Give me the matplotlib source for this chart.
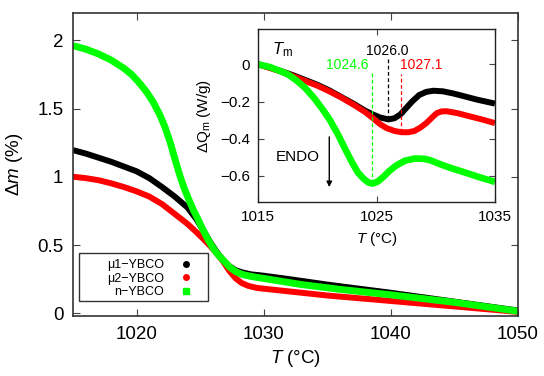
import matplotlib
matplotlib.use("Agg")
import matplotlib.pyplot as plt
from matplotlib.lines import Line2D
from matplotlib.patches import Rectangle

plt.rcParams['font.family'] = ['Liberation Sans', 'DejaVu Sans']
plt.rcParams['mathtext.fontset'] = 'custom'
plt.rcParams['mathtext.rm'] = 'Liberation Sans'
plt.rcParams['mathtext.it'] = 'Liberation Sans:italic'

# main panel: mass change vs temperature
t_mu1 = [1015, 1016, 1017, 1018, 1019, 1020, 1021, 1022, 1023, 1024,
         1024.7, 1025.3, 1025.8, 1026.3, 1026.8, 1027.3, 1027.8, 1028.3, 1029, 1030,
         1032, 1035, 1040, 1045, 1050]
dm_mu1 = [1.195, 1.17, 1.14, 1.11, 1.075, 1.04, 0.99, 0.925, 0.855, 0.775,
          0.69, 0.60, 0.52, 0.45, 0.39, 0.345, 0.315, 0.30, 0.285, 0.275,
          0.25, 0.21, 0.15, 0.085, 0.02]

t_mu2 = [1015, 1016, 1017, 1018, 1019, 1020, 1021, 1022, 1023, 1024,
         1024.7, 1025.3, 1025.8, 1026.3, 1026.8, 1027.3, 1027.8, 1028.3, 1028.8, 1029.5,
         1031, 1035, 1040, 1045, 1050]
dm_mu2 = [1.00, 0.99, 0.975, 0.952, 0.925, 0.893, 0.855, 0.80, 0.728, 0.655,
          0.595, 0.54, 0.492, 0.44, 0.38, 0.31, 0.255, 0.22, 0.20, 0.185,
          0.17, 0.13, 0.09, 0.05, 0.01]

t_n = [1015, 1016, 1017, 1018, 1019, 1019.6, 1020.2, 1020.8, 1021.35, 1021.85,
       1022.25, 1022.65, 1023.05, 1023.4, 1023.75, 1024.1, 1024.45, 1024.85, 1025.15, 1025.5,
       1025.9, 1026.3, 1026.8, 1027.3, 1027.8, 1028.3, 1029, 1030, 1033, 1036,
       1040, 1045, 1050]
dm_n = [1.96, 1.935, 1.90, 1.855, 1.795, 1.75, 1.69, 1.62, 1.54, 1.45,
        1.36, 1.25, 1.12, 1.01, 0.915, 0.835, 0.76, 0.685, 0.625, 0.56,
        0.495, 0.44, 0.39, 0.34, 0.305, 0.285, 0.27, 0.255, 0.21, 0.175,
        0.135, 0.08, 0.015]

# inset: heat flow
ti_mu1 = [1015, 1016, 1017, 1018, 1019, 1020, 1021, 1022, 1023, 1024,
          1024.7, 1025.3, 1026, 1026.5, 1027, 1027.5, 1028, 1028.6, 1029.2, 1029.8,
          1030.6, 1031.5, 1032.3, 1033.5, 1035]
q_mu1 = [0.0, -0.018, -0.038, -0.06, -0.085, -0.11, -0.14, -0.175, -0.21, -0.248,
         -0.27, -0.286, -0.296, -0.29, -0.27, -0.235, -0.2, -0.165, -0.148, -0.142,
         -0.145, -0.157, -0.17, -0.19, -0.211]

ti_mu2 = [1015, 1016, 1017, 1018, 1019, 1020, 1021, 1022, 1023, 1024,
          1024.7, 1025.3, 1025.85, 1026.5, 1027.1, 1027.7, 1028.2, 1028.7, 1029.2, 1029.7,
          1030.1, 1030.5, 1030.9, 1031.8, 1032.9, 1034, 1035]
q_mu2 = [0.0, -0.02, -0.04, -0.065, -0.09, -0.115, -0.145, -0.178, -0.215, -0.255,
         -0.29, -0.322, -0.343, -0.358, -0.365, -0.365, -0.358, -0.34, -0.316, -0.285,
         -0.262, -0.253, -0.252, -0.262, -0.28, -0.298, -0.316]

ti_n = [1015, 1016, 1017, 1017.5, 1018.2, 1018.95, 1019.7, 1020.36, 1021.06, 1021.76,
        1022.3, 1022.9, 1023.4, 1023.9, 1024.3, 1024.67, 1025.1, 1025.57, 1026.1, 1026.7,
        1027.4, 1028.25, 1029, 1029.5, 1030.5, 1031.4, 1032.3, 1033.6, 1035]
q_n = [0.0, -0.015, -0.04, -0.054, -0.085, -0.126, -0.18, -0.235, -0.30, -0.38,
       -0.45, -0.524, -0.58, -0.615, -0.635, -0.641, -0.63, -0.605, -0.572, -0.542,
       -0.518, -0.506, -0.508, -0.515, -0.54, -0.56, -0.578, -0.605, -0.632]

# peak temperatures (T_m): n, mu1, mu2
tm_vals = [1024.6, 1026.0, 1027.1]
tm_low = [-0.64, -0.296, -0.365]
tm_high = [-0.045, 0.027, -0.054]
tm_labels = ["1024.6", "1026.0", "1027.1"]

names = ["\u03bc1\u2212YBCO", "\u03bc2\u2212YBCO", "n\u2212YBCO"]
colors = ["black", "red", "#00ff00"]
tm_colors = ["#00ff00", "black", "red"]

main_xticks = [1020, 1030, 1040, 1050]
main_yticks = [0, 0.5, 1, 1.5, 2]
main_yticklabels = ["0", "0.5", "1", "1.5", "2"]
inset_xticks = [1015, 1025, 1035]
inset_yticks = [0, -0.2, -0.4, -0.6]
inset_yticklabels = ["0", "\u22120.2", "\u22120.4", "\u22120.6"]

fig = plt.figure(figsize=(5.44, 3.76), dpi=100)
ax = fig.add_axes([0.1342, 0.1596, 0.818, 0.8059])

ax.plot(t_mu1, dm_mu1, color=colors[0], lw=4.3, solid_capstyle='butt')
ax.plot(t_mu2, dm_mu2, color=colors[1], lw=4.3, solid_capstyle='butt')
ax.plot(t_n, dm_n, color=colors[2], lw=5.0, solid_capstyle='butt')

ax.set_xlim(1015, 1050)
ax.set_ylim(-0.02, 2.2)
ax.set_xticks(main_xticks)
ax.set_yticks(main_yticks)
ax.set_yticklabels(main_yticklabels)
ax.tick_params(direction='in', top=True, right=True, labelsize=13.5, length=5, pad=7,
               color='#444444')
for s in ax.spines.values():
    s.set_color('#333333')
    s.set_linewidth(1.2)
ax.set_xlabel("$T$ (\u00b0C)", fontsize=13.5, labelpad=4)
ax.set_ylabel("\u0394$m$ (%)", fontsize=13.5, labelpad=9)

# legend frame (gnuplot style box) and entries
ax.add_patch(Rectangle((0.0135, 0.0495), 0.29, 0.1595, transform=ax.transAxes,
                       fill=True, facecolor='white', edgecolor='#333333', lw=1.0, zorder=4))
handles = [Line2D([], [], ls='none', marker='o', ms=4, color=colors[0]),
           Line2D([], [], ls='none', marker='o', ms=4, color=colors[1]),
           Line2D([], [], ls='none', marker='s', ms=5, color=colors[2])]
leg = ax.legend(handles, names, loc='upper right', bbox_to_anchor=(0.2674, 0.187),
                borderaxespad=0, borderpad=0, markerfirst=False, frameon=False,
                fontsize=9, handlelength=1.0, handletextpad=1.25, labelspacing=0.12)
leg.set_zorder(5)

# inset
ins = fig.add_axes([0.4748, 0.4628, 0.435, 0.4601])
ins.plot(ti_mu1, q_mu1, color=colors[0], lw=4.3, solid_capstyle='butt')
ins.plot(ti_mu2, q_mu2, color=colors[1], lw=4.3, solid_capstyle='butt')
ins.plot(ti_n, q_n, color=colors[2], lw=4.8, solid_capstyle='butt')

for i in range(3):
    ins.plot([tm_vals[i], tm_vals[i]], [tm_low[i], tm_high[i]], color=tm_colors[i],
             lw=0.9, ls=(0, (3, 2)))

ins.text(1025.9, 0.072, tm_labels[1], color='black', fontsize=10, ha='center', va='center')
ins.text(1022.5, -0.005, tm_labels[0], color='#00ff00', fontsize=10, ha='center', va='center')
ins.text(1028.8, -0.005, tm_labels[2], color='red', fontsize=10, ha='center', va='center')
ins.text(1016.2, 0.08, "$T_\\mathrm{m}$", fontsize=12, ha='left', va='center')
ins.text(1018.3, -0.5, "ENDO", fontsize=11, ha='center', va='center')
ins.annotate("", xy=(1021.0, -0.66), xytext=(1021.0, -0.39),
             arrowprops=dict(arrowstyle='-|>', color='black', lw=1.0,
                             mutation_scale=8, shrinkA=0, shrinkB=0))

ins.set_xlim(1015, 1035)
ins.set_ylim(-0.74, 0.19)
ins.set_xticks(inset_xticks)
ins.set_yticks(inset_yticks)
ins.set_yticklabels(inset_yticklabels)
ins.tick_params(direction='in', top=True, right=True, labelsize=11, length=4, pad=6,
                color='#444444')
for s in ins.spines.values():
    s.set_color('#222222')
    s.set_linewidth(1.0)
ins.set_xlabel("$T$ (\u00b0C)", fontsize=11, labelpad=4)
ins.set_ylabel("\u0394Q$_\\mathrm{m}$ (W/g)", fontsize=11, labelpad=5)

fig.savefig("out.png", dpi=100)
